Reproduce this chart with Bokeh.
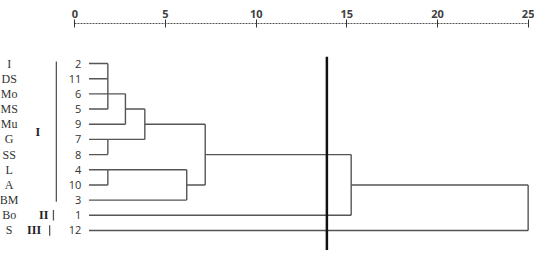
from bokeh.plotting import figure
from bokeh.models import Range1d, FixedTicker
from bokeh.core.properties import value
from bokeh.embed import file_html
from bokeh.resources import INLINE

# ---- data ----
leaf_ids = ["2", "11", "6", "5", "9", "7", "8", "4", "10", "3", "1", "12"]
leaf_names = ["I", "DS", "Mo", "MS", "Mu", "G", "SS", "L", "A", "BM", "Bo", "S"]

merge_names = ["a", "b", "c", "d", "e", "f", "g", "h", "k"]
merge_children = [["2", "11", "6", "5"], ["a", "9"], ["7", "8"], ["b", "c"],
                  ["4", "10"], ["e", "3"], ["d", "f"], ["g", "1"], ["h", "12"]]
merge_heights = [1.82, 2.79, 1.82, 3.86, 1.82, 6.17, 7.19, 15.24, 25.0]
merge_out_leaf = ["6", "5", "7", "9", "4", "10", "8", "10", None]

leaf_start = 0.78
cut_value = 13.9

group_labels = ["I", "II", "III"]
group_first = ["2", "1", "12"]
group_last = ["3", "1", "12"]

axis_ticks = [0, 5, 10, 15, 20, 25]

# ---- layout ----
W, H = 534, 250
TOP = 23
row_px = 15.18
row0_fig = 63
y_top = (TOP - row0_fig) / row_px
y_bot = (H - row0_fig) / row_px

p = figure(width=W, height=H, output_backend="svg", toolbar_location=None,
           x_range=Range1d(-4.1, 25.35), y_range=Range1d(y_bot, y_top),
           x_axis_location="above", y_axis_location=None,
           min_border_left=0, min_border_right=0, min_border_bottom=0,
           min_border_top=TOP)
p.outline_line_color = None
p.grid.visible = False
p.background_fill_color = "white"
p.border_fill_color = "white"

ax = p.xaxis[0]
ax.ticker = FixedTicker(ticks=axis_ticks)
ax.bounds = (axis_ticks[0], axis_ticks[-1])
ax.axis_line_dash = "2 1"
ax.axis_line_color = "#555555"
ax.axis_line_width = 1
ax.major_tick_in = 4
ax.major_tick_out = 4
ax.major_tick_line_color = "#333333"
ax.minor_tick_line_color = None
ax.major_label_standoff = 2
ax.major_label_text_font = "Open Sans"
ax.major_label_text_font_style = "bold"
ax.major_label_text_font_size = "11px"
ax.major_label_text_color = "#404040"

row_of = {lid: i for i, lid in enumerate(leaf_ids)}

# ---- dendrogram ----
pos = {lid: (leaf_start, row_of[lid]) for lid in leaf_ids}
hx0, hx1, hy = [], [], []
vx, vy0, vy1 = [], [], []
for name, kids, d, out in zip(merge_names, merge_children, merge_heights, merge_out_leaf):
    rows = []
    for k in kids:
        x0, r = pos[k]
        hx0.append(x0); hx1.append(d); hy.append(r)
        rows.append(r)
    vx.append(d); vy0.append(min(rows)); vy1.append(max(rows))
    if out is not None:
        pos[name] = (d, row_of[out])

p.segment(x0=hx0, y0=hy, x1=hx1, y1=hy, line_color="#555555", line_width=1.4)
p.segment(x0=vx, y0=vy0, x1=vx, y1=vy1, line_color="#555555", line_width=1.4)

# cut line
p.segment(x0=[cut_value], y0=[-0.45], x1=[cut_value], y1=[y_bot],
          line_color="#111111", line_width=2.5)

# leaf numbers
rows = list(range(len(leaf_ids)))
p.text(x=[0.36] * len(rows), y=rows, text=leaf_ids, text_align="right",
       text_baseline="middle", text_font=value("Open Sans"),
       text_font_size="11px", text_color="#333333")
# leaf names
p.text(x=[-3.62] * len(rows), y=rows, text=leaf_names, text_align="center",
       text_baseline="middle", text_font=value("Liberation Serif"),
       text_font_size="12px", text_color="#333333")

# groups
g_mid = [(row_of[a] + row_of[b]) / 2 for a, b in zip(group_first, group_last)]
g_x = [-2.04, -1.72, -2.25]
p.text(x=g_x, y=g_mid, text=group_labels, text_align="center",
       text_baseline="middle", text_font=value("Liberation Serif"),
       text_font_style="bold", text_font_size="12px", text_color="#222222")
bar_x = [-1.02, -1.18, -1.39]
bar_y0 = [row_of[a] - (0.13 if a != b else 0.35) for a, b in zip(group_first, group_last)]
bar_y1 = [row_of[b] + (0.1 if a != b else 0.35) for a, b in zip(group_first, group_last)]
p.segment(x0=bar_x, y0=bar_y0, x1=bar_x, y1=bar_y1, line_color="#555555", line_width=1.3)

open("out.html", "w").write(file_html(p, INLINE))
